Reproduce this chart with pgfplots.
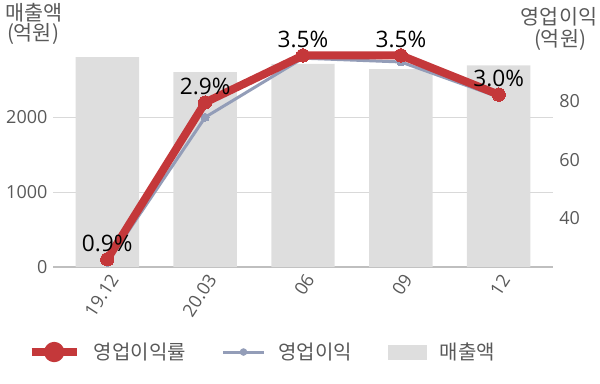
\documentclass[border=0pt]{standalone}
\usepackage{fontspec}
\usepackage{pgfplots}
\pgfplotsset{compat=1.18}
\setmainfont{Open Sans}
\newfontfamily\kr{Noto Sans CJK KR}
\definecolor{redline}{HTML}{C4383A}
\definecolor{blueline}{HTML}{939DB8}
\definecolor{barfill}{HTML}{DEDEDE}
\definecolor{ticktext}{HTML}{595959}
\definecolor{gridc}{HTML}{D9D9D9}
\definecolor{axisc}{HTML}{BFBFBF}
\newcommand{\tickfont}{\fontsize{13.5pt}{16pt}\selectfont}
\newcommand{\labelfont}{\fontsize{17pt}{20pt}\selectfont}
\newcommand{\legfont}{\fontsize{15pt}{18pt}\selectfont\kr}
\newcommand{\titlefont}{\fontsize{15.5pt}{18pt}\selectfont\kr}
\pgfplotsset{
  base/.style={
    at={(39.75pt,87pt)}, anchor=south west,
    scale only axis, width=375pt, height=166.5pt,
    xmin=-0.555, xmax=4.555,
    /pgf/number format/assume math mode=true,
    /pgf/number format/1000 sep={},
    major tick length=0pt,
    ticklabel style={text=ticktext, font=\tickfont},
    clip=false,
  }
}
\begin{document}
\begin{tikzpicture}
\path[use as bounding box] (0,0) rectangle (450pt,287.25pt);
% sales bars (left axis)
\begin{axis}[base,
  ymin=0, ymax=2960, ytick={0,1000,2000},
  ymajorgrids, grid style={gridc, line width=0.75pt},
  axis x line*=bottom, axis y line*=left,
  y axis line style={draw=none},
  x axis line style={axisc, line width=1pt, -},
  xtick={0,1,2,3,4}, xticklabels={19.12,20.03,06,09,12},
  x tick label style={xshift=5.25pt, yshift=-6.75pt, rotate=57, anchor=east, inner sep=0pt},
  y tick label style={inner sep=0pt, xshift=-4pt},
  ybar, bar width=47.6pt,
]
\addplot[fill=barfill, draw=none, bar shift=0pt] coordinates {(0,2800) (1,2600) (2,2710) (3,2640) (4,2690)};
\end{axis}
% operating profit (right axis)
\begin{axis}[base,
  ymin=23.42, ymax=99.3, ytick={40,60,80},
  axis y line*=right, axis x line=none,
  y axis line style={draw=none},
  y tick label style={inner sep=0pt, xshift=4.5pt},
]
\addplot[blueline, line width=2.25pt, mark=*, mark size=3pt, mark options={solid, fill=blueline, draw=blueline, line width=0pt}]
  coordinates {(0,25.0) (1,74.6) (2,94.8) (3,93.5) (4,81.5)};
\end{axis}
% operating margin (hidden axis)
\begin{axis}[base, hide axis,
  ymin=0.802, ymax=3.633,
  legend style={at={(0.418,-0.383)}, anchor=center, draw=none, fill=none,
    legend columns=3, font=\legfont, text=ticktext,
    /tikz/every odd column/.append style={column sep=9pt},
    /tikz/every even column/.append style={column sep=26pt},
    nodes={inner sep=1pt}},
]
\addplot[redline, line width=6pt, line join=round, mark=*, mark size=5pt,
  mark options={solid, fill=redline, draw=redline, line width=0pt},
  nodes near coords={\pgfmathprintnumber[fixed,precision=1,zerofill]{\pgfplotspointmeta}\%},
  every node near coord/.style={text=black, font=\labelfont, anchor=south, inner sep=0pt, yshift=5.5pt},
  legend image code/.code={\draw[redline, line width=6pt] (0pt,0pt) -- (33.75pt,0pt); \fill[redline] (16.9pt,0pt) circle (4.6pt);}]
  coordinates {(0,0.9) (1,2.9) (2,3.5) (3,3.5) (4,3.0)};
\addlegendentry{영업이익률}
\addlegendimage{legend image code/.code={\draw[blueline, line width=2.25pt] (0pt,0pt) -- (30pt,0pt); \fill[blueline] (15pt,0pt) circle (2.6pt);}}
\addlegendentry{영업이익}
\addlegendimage{legend image code/.code={\fill[barfill] (0pt,-5.25pt) rectangle (28.5pt,5.25pt);}}
\addlegendentry{매출액}
\end{axis}
% axis titles
\node[font=\titlefont, text=ticktext] at (25.5pt,277.5pt) {매출액};
\node[font=\titlefont, text=ticktext] at (24.75pt,261.75pt) {(억원)};
\node[font=\titlefont, text=ticktext] at (419.25pt,274.5pt) {영업이익};
\node[font=\titlefont, text=ticktext] at (420pt,257pt) {(억원)};
\end{tikzpicture}
\end{document}
